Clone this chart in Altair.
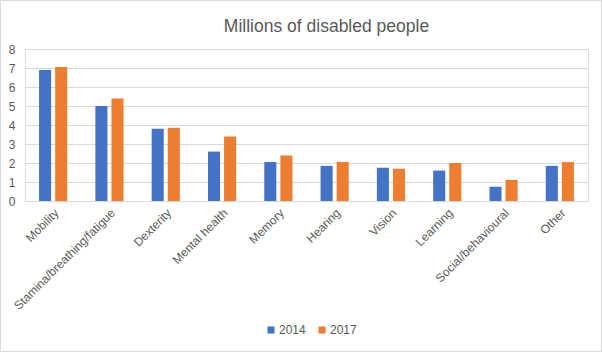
import altair as alt
import pandas as pd

categories = ["Mobility", "Stamina/breathing/fatigue", "Dexterity", "Mental health",
              "Memory", "Hearing", "Vision", "Learning", "Social/behavioural", "Other"]
values_2014 = [6.9, 5.0, 3.8, 2.6, 2.05, 1.85, 1.75, 1.6, 0.75, 1.85]
values_2017 = [7.05, 5.4, 3.85, 3.4, 2.4, 2.05, 1.7, 2.0, 1.1, 2.05]
years = ["2014", "2017"]
colors = ["#4472C4", "#ED7D31"]

rows = []
for c, a, b in zip(categories, values_2014, values_2017):
    rows.append({"category": c, "year": "2014", "value": a})
    rows.append({"category": c, "year": "2017", "value": b})
df = pd.DataFrame(rows)

FONT = "Liberation Sans"
GREY = "#595959"

W, H = 563, 152
PL, PT, PR, PB = 25, 49, 14, 151

bars = alt.Chart(df).mark_bar().encode(
    x=alt.X("category:N", sort=categories, title=None,
            scale=alt.Scale(paddingInner=0.5, paddingOuter=0.25),
            axis=alt.Axis(labelAngle=-45, labelColor=GREY, labelFont=FONT,
                          labelFontSize=12, ticks=False, domain=False,
                          labelPadding=6, grid=False, labelLimit=300)),
    xOffset=alt.XOffset("year:N", sort=years,
                        scale=alt.Scale(paddingInner=0.25)),
    y=alt.Y("value:Q", title=None,
            scale=alt.Scale(domain=[0, 8]),
            axis=alt.Axis(values=list(range(0, 9)), labelColor=GREY, labelFont=FONT,
                          labelFontSize=12, ticks=False, domain=False,
                          labelPadding=10, gridColor="#d9d9d9", gridWidth=1)),
    color=alt.Color("year:N", sort=years,
                    scale=alt.Scale(domain=years, range=colors),
                    legend=alt.Legend(title=None, orient="none", direction="horizontal",
                                      legendX=240, legendY=275, symbolType="square",
                                      symbolSize=50, symbolStrokeWidth=0,
                                      labelFont=FONT, labelFontSize=12,
                                      labelColor=GREY, columnPadding=10,
                                      labelOffset=2)),
)

border = alt.Chart(pd.DataFrame({"d": [0]})).mark_rect(
    fill=None, stroke="#d9d9d9", strokeWidth=1
).encode(
    x=alt.value(-PL + 0.5), x2=alt.value(W + PR - 0.5),
    y=alt.value(-PT + 0.5), y2=alt.value(H + PB - 0.5),
)

chart = alt.layer(border, bars).properties(
    width=W, height=H,
    padding={"left": PL, "top": PT, "right": PR, "bottom": PB},
    autosize="none",
    title=alt.TitleParams("Millions of disabled people", font=FONT, fontSize=17.5,
                          fontWeight="normal", color=GREY, anchor="middle",
                          frame="group", dx=20, dy=PT, offset=14),
).configure_view(stroke=None).configure(background="white")

chart.save("out.html", embed_options={"renderer": "svg", "actions": False})
